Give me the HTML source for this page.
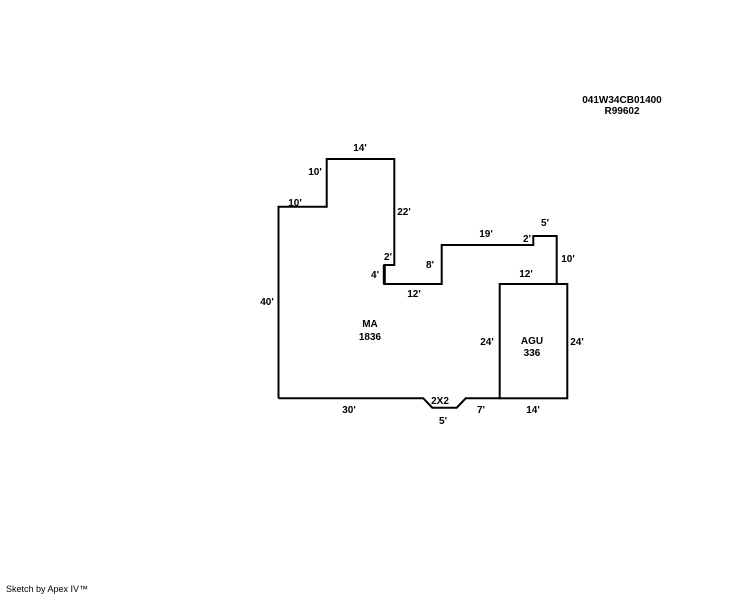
<!DOCTYPE html>
<html><head><meta charset="utf-8"><style>
html,body{margin:0;padding:0;background:#fff;width:744px;height:595px;overflow:hidden}
svg text{font-family:"Liberation Sans",Arial,sans-serif;font-size:10px;font-weight:bold;fill:#000}
</style></head><body>
<svg width="744" height="595" viewBox="0 0 744 595">
<g fill="none" stroke="#000" stroke-width="2">
<path d="M278.5 398.3 V206.7 H326.7 V159 H394.3 V265 H384.3 V284 H441.7 V245 H533.3 V236 H556.7 V284"/>
<path d="M384.3 265 V284" stroke-width="3"/>
<rect x="499.7" y="284" width="67.6" height="114.3"/>
<path d="M278.5 398.3 H423.3 L432.3 407.7 H456.7 L465.7 398.3 H499.7"/>
</g>
<g text-anchor="middle">
<text x="622" y="103">041W34CB01400</text>
<text x="622" y="114">R99602</text>
<text x="360" y="151">14'</text>
<text x="315" y="175">10'</text>
<text x="295" y="206">10'</text>
<text x="404" y="215">22'</text>
<text x="388" y="260">2'</text>
<text x="375" y="278">4'</text>
<text x="414" y="297">12'</text>
<text x="430" y="268">8'</text>
<text x="486" y="237">19'</text>
<text x="527" y="242">2'</text>
<text x="545" y="226">5'</text>
<text x="568" y="262">10'</text>
<text x="526" y="277">12'</text>
<text x="267" y="305">40'</text>
<text x="370" y="327">MA</text>
<text x="370" y="340">1836</text>
<text x="487" y="345">24'</text>
<text x="532" y="344">AGU</text>
<text x="532" y="356">336</text>
<text x="577" y="345">24'</text>
<text x="349" y="413">30'</text>
<text x="440" y="404">2X2</text>
<text x="443" y="424">5'</text>
<text x="481" y="413">7'</text>
<text x="533" y="413">14'</text>
</g>
<text x="6" y="592" style="font-weight:normal;font-size:9px">Sketch by Apex IV™</text>
</svg>
</body></html>
